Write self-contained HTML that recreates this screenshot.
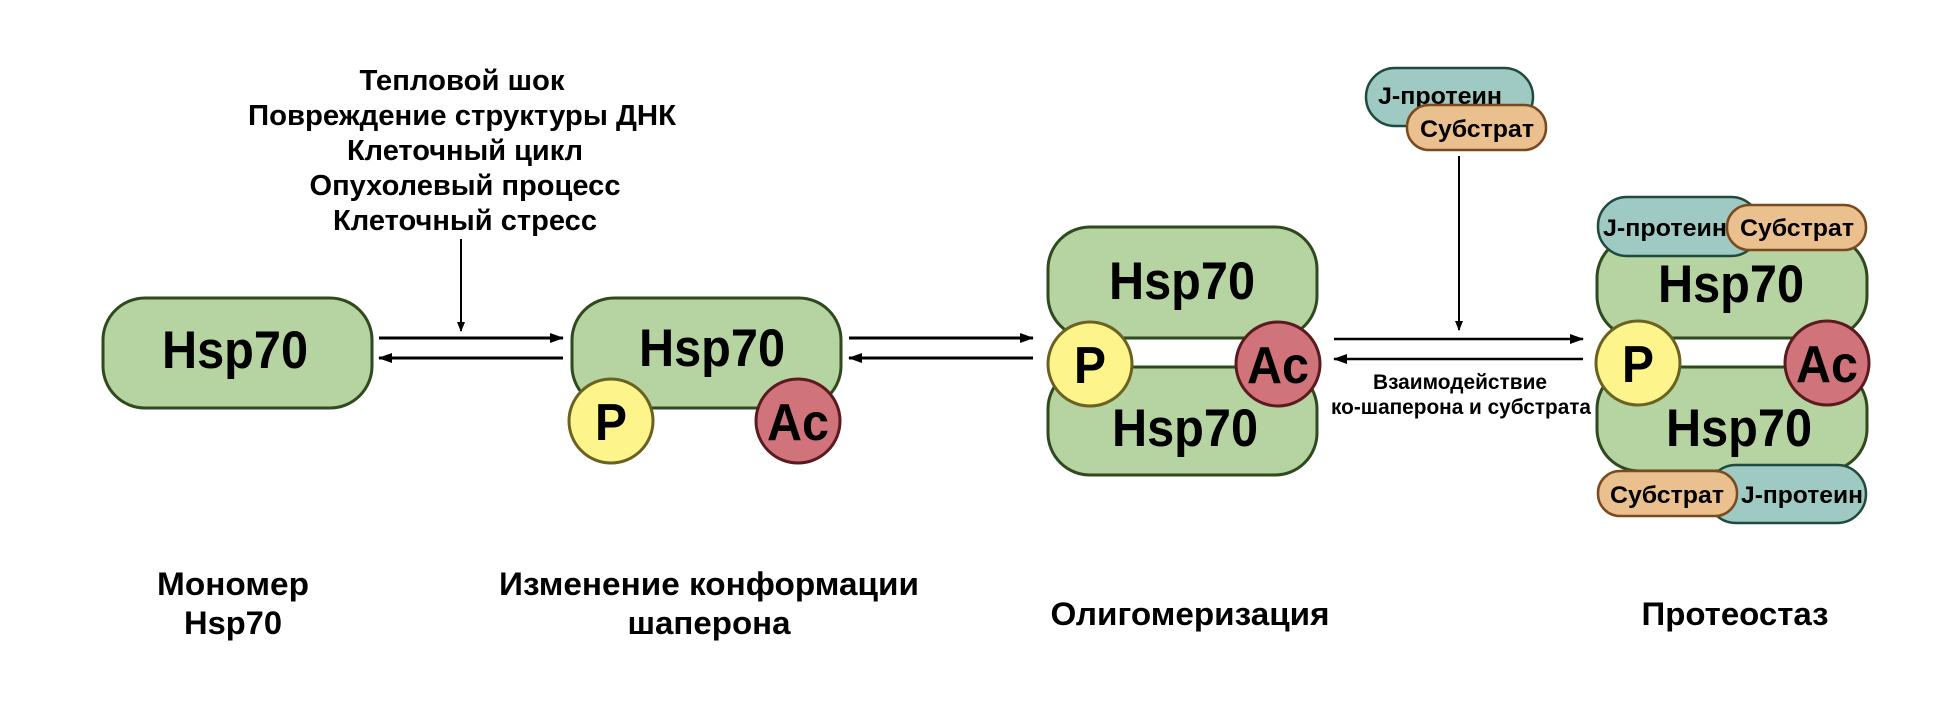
<!DOCTYPE html>
<html><head><meta charset="utf-8"><style>
html,body{margin:0;padding:0;background:#fff;width:1949px;height:706px;overflow:hidden}
svg text{font-family:"Liberation Sans",sans-serif;font-weight:bold;fill:#000}
</style></head><body>
<svg width="1949" height="706" viewBox="0 0 1949 706" xmlns="http://www.w3.org/2000/svg">
<defs>
<marker id="ah" markerWidth="10" markerHeight="8" refX="9" refY="4" orient="auto" markerUnits="userSpaceOnUse">
<path d="M0,0 L10,4 L0,8 Z" fill="#000"/></marker>
<marker id="ah2" markerWidth="14" markerHeight="10" refX="13" refY="5" orient="auto" markerUnits="userSpaceOnUse">
<path d="M0,0 L14,5 L0,10 Z" fill="#000"/></marker>
</defs>
<g stroke-width="3">
<g font-size="29" text-anchor="middle">
<text x="462" y="90" textLength="205" lengthAdjust="spacingAndGlyphs">Тепловой шок</text>
<text x="462" y="125" textLength="428" lengthAdjust="spacingAndGlyphs">Повреждение структуры ДНК</text>
<text x="465" y="160" textLength="236" lengthAdjust="spacingAndGlyphs">Клеточный цикл</text>
<text x="465" y="195" textLength="311" lengthAdjust="spacingAndGlyphs">Опухолевый процесс</text>
<text x="465" y="230" textLength="264" lengthAdjust="spacingAndGlyphs">Клеточный стресс</text>
</g>
<line x1="461" y1="239" x2="461" y2="331" stroke="#000" stroke-width="2" marker-end="url(#ah)"/>

<rect x="103" y="298" width="269" height="110" rx="42" fill="#b6d3a2" stroke="#2e4a1e"/>
<text x="235" y="368" font-size="53" text-anchor="middle" textLength="146" lengthAdjust="spacingAndGlyphs">Hsp70</text>

<line x1="379" y1="338" x2="563" y2="338" stroke="#000" stroke-width="3" marker-end="url(#ah2)"/>
<line x1="563" y1="358" x2="379" y2="358" stroke="#000" stroke-width="3" marker-end="url(#ah2)"/>

<rect x="572" y="298" width="269" height="110" rx="42" fill="#b6d3a2" stroke="#2e4a1e"/>
<text x="712" y="366" font-size="53" text-anchor="middle" textLength="146" lengthAdjust="spacingAndGlyphs">Hsp70</text>
<circle cx="611" cy="421" r="42" fill="#fdf58b" stroke="#6b6120"/>
<text x="611" y="440" font-size="52" text-anchor="middle" textLength="32" lengthAdjust="spacingAndGlyphs">P</text>
<circle cx="798" cy="421" r="42" fill="#d1737b" stroke="#5a1a1e"/>
<text x="798" y="440" font-size="52" text-anchor="middle" textLength="62" lengthAdjust="spacingAndGlyphs">Ac</text>

<line x1="849" y1="338" x2="1033" y2="338" stroke="#000" stroke-width="3" marker-end="url(#ah2)"/>
<line x1="1033" y1="358" x2="849" y2="358" stroke="#000" stroke-width="3" marker-end="url(#ah2)"/>

<rect x="1048" y="227" width="269" height="111" rx="42" fill="#b6d3a2" stroke="#2e4a1e"/>
<rect x="1048" y="367" width="269" height="108" rx="42" fill="#b6d3a2" stroke="#2e4a1e"/>
<text x="1182" y="299" font-size="53" text-anchor="middle" textLength="146" lengthAdjust="spacingAndGlyphs">Hsp70</text>
<text x="1185" y="446" font-size="53" text-anchor="middle" textLength="146" lengthAdjust="spacingAndGlyphs">Hsp70</text>
<circle cx="1090" cy="364" r="42" fill="#fdf58b" stroke="#6b6120"/>
<text x="1090" y="383" font-size="52" text-anchor="middle" textLength="32" lengthAdjust="spacingAndGlyphs">P</text>
<circle cx="1278" cy="364" r="42" fill="#d1737b" stroke="#5a1a1e"/>
<text x="1278" y="383" font-size="52" text-anchor="middle" textLength="62" lengthAdjust="spacingAndGlyphs">Ac</text>

<rect x="1366" y="68" width="167" height="58" rx="29" fill="#9fc9c3" stroke="#1f4a3e" stroke-width="2.5"/>
<text x="1440" y="104" font-size="24" text-anchor="middle" textLength="124" lengthAdjust="spacingAndGlyphs">J-протеин</text>
<rect x="1407" y="105" width="139" height="45" rx="22" fill="#ebc08f" stroke="#7a4a1f" stroke-width="2.5"/>
<text x="1477" y="137" font-size="24" text-anchor="middle" textLength="114" lengthAdjust="spacingAndGlyphs">Субстрат</text>
<line x1="1459" y1="156" x2="1459" y2="330" stroke="#000" stroke-width="2" marker-end="url(#ah)"/>
<line x1="1334" y1="339" x2="1583" y2="339" stroke="#000" stroke-width="2.5" marker-end="url(#ah2)"/>
<line x1="1583" y1="359" x2="1334" y2="359" stroke="#000" stroke-width="2.5" marker-end="url(#ah2)"/>
<text x="1460" y="389" font-size="21" text-anchor="middle" textLength="174" lengthAdjust="spacingAndGlyphs">Взаимодействие</text>
<text x="1461" y="414" font-size="21" text-anchor="middle" textLength="260" lengthAdjust="spacingAndGlyphs">ко-шаперона и субстрата</text>

<rect x="1597" y="236" width="270" height="102" rx="42" fill="#b6d3a2" stroke="#2e4a1e"/>
<rect x="1597" y="367" width="270" height="104" rx="42" fill="#b6d3a2" stroke="#2e4a1e"/>
<rect x="1598" y="197" width="162" height="59" rx="29" fill="#9fc9c3" stroke="#1f4a3e" stroke-width="2.5"/>
<text x="1665" y="236" font-size="24" text-anchor="middle" textLength="124" lengthAdjust="spacingAndGlyphs">J-протеин</text>
<rect x="1727" y="205" width="139" height="45" rx="22" fill="#ebc08f" stroke="#7a4a1f" stroke-width="2.5"/>
<text x="1797" y="236" font-size="24" text-anchor="middle" textLength="114" lengthAdjust="spacingAndGlyphs">Субстрат</text>
<text x="1731" y="302" font-size="53" text-anchor="middle" textLength="146" lengthAdjust="spacingAndGlyphs">Hsp70</text>
<text x="1739" y="446" font-size="53" text-anchor="middle" textLength="146" lengthAdjust="spacingAndGlyphs">Hsp70</text>
<circle cx="1638" cy="363" r="42" fill="#fdf58b" stroke="#6b6120"/>
<text x="1638" y="382" font-size="52" text-anchor="middle" textLength="32" lengthAdjust="spacingAndGlyphs">P</text>
<circle cx="1827" cy="363" r="42" fill="#d1737b" stroke="#5a1a1e"/>
<text x="1827" y="382" font-size="52" text-anchor="middle" textLength="62" lengthAdjust="spacingAndGlyphs">Ac</text>
<rect x="1707" y="465" width="159" height="58" rx="29" fill="#9fc9c3" stroke="#1f4a3e" stroke-width="2.5"/>
<text x="1802" y="503" font-size="24" text-anchor="middle" textLength="122" lengthAdjust="spacingAndGlyphs">J-протеин</text>
<rect x="1598" y="471" width="139" height="45" rx="22" fill="#ebc08f" stroke="#7a4a1f" stroke-width="2.5"/>
<text x="1667" y="503" font-size="24" text-anchor="middle" textLength="114" lengthAdjust="spacingAndGlyphs">Субстрат</text>

<g font-size="32" text-anchor="middle">
<text x="233" y="595" textLength="152" lengthAdjust="spacingAndGlyphs">Мономер</text>
<text x="233" y="634" textLength="98" lengthAdjust="spacingAndGlyphs">Hsp70</text>
<text x="709" y="595" textLength="420" lengthAdjust="spacingAndGlyphs">Изменение конформации</text>
<text x="709" y="634" textLength="163" lengthAdjust="spacingAndGlyphs">шаперона</text>
<text x="1190" y="625" textLength="279" lengthAdjust="spacingAndGlyphs">Олигомеризация</text>
<text x="1735" y="625" textLength="187" lengthAdjust="spacingAndGlyphs">Протеостаз</text>
</g>
</g>
</svg>
</body></html>
